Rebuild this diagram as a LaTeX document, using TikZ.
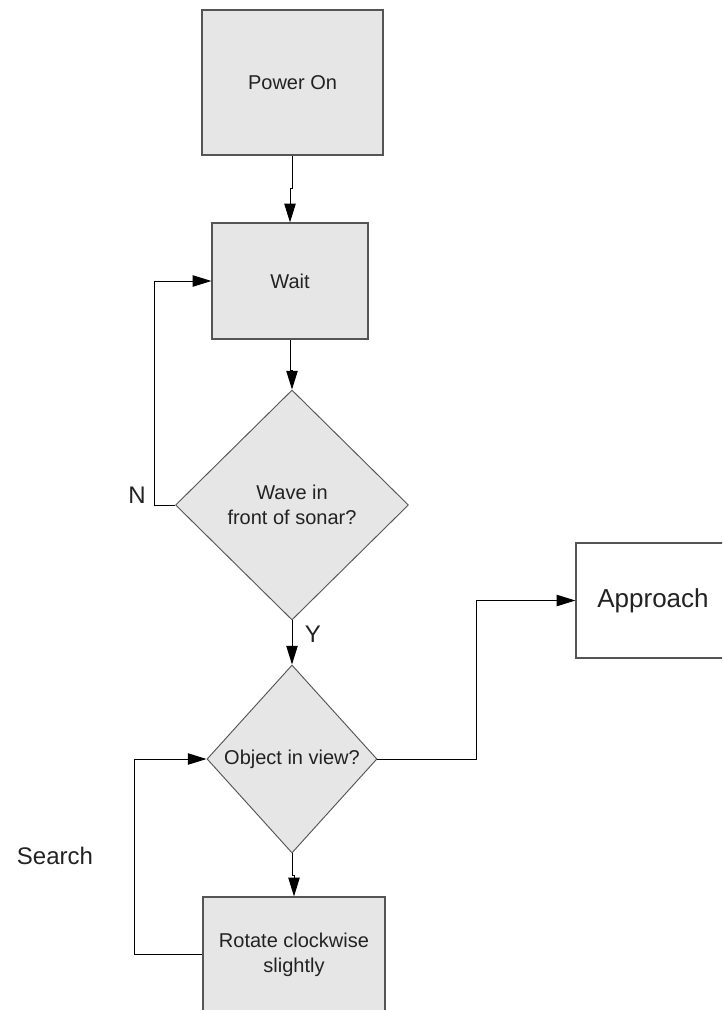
\documentclass[tikz,border=0pt]{standalone}
\usepackage{fontspec}
\setmainfont{Liberation Sans}
\usetikzlibrary{shapes.geometric,arrows.meta,calc}
\definecolor{boxfill}{HTML}{E6E6E6}
\definecolor{boxline}{HTML}{555555}
\definecolor{txt}{HTML}{222222}
\begin{document}
\begin{tikzpicture}[x=0.75pt,y=-0.75pt,
  box/.style={draw=boxline,line width=0.9pt,fill=boxfill,inner sep=0pt,
    font=\fontsize{15}{18.75}\selectfont,text=txt,align=center},
  dia/.style={draw=boxline,line width=0.7pt,fill=boxfill,diamond,inner sep=0pt,
    font=\fontsize{15}{18.75}\selectfont,text=txt,align=center},
  lbl/.style={font=\fontsize{18}{22}\selectfont,text=txt,inner sep=0pt},
  arr/.style={line width=0.75pt,-{Triangle[length=14pt,width=8.5pt]}},
  ln/.style={line width=0.75pt}]
\useasboundingbox (0,0) rectangle (722,1010);
\clip (0,0) rectangle (722,1010);
\node[box,minimum width=135.75pt,minimum height=108.75pt] (pw) at (292.5,82.5) {Power On};
\node[box,minimum width=117pt,minimum height=87pt] (wait) at (290,281) {Wait};
\node[dia,minimum width=174.75pt,minimum height=172.5pt] (d1) at (292,505) {Wave in\\front of sonar?};
\node[dia,minimum width=127.5pt,minimum height=141pt] (d2) at (292,759) {Object in view?};
\node[box,minimum width=136.5pt,minimum height=86.25pt] (rot) at (294,954.5) {Rotate clockwise\\slightly};
\node[box,fill=white,minimum width=115.5pt,minimum height=86.25pt,
  font=\fontsize{19.5}{23}\selectfont] (ap) at (653,600.5) {Approach};
\node[lbl] (n) at (137,495) {N};
\node[lbl] (y) at (313,634) {Y};
\node[lbl] (search) at (55,856) {Search};
\draw[arr] (pw.south) -- ++(0,33) -| (wait.north);
\draw[arr] (wait.south) -- ++(0,31) -| (d1.north);
\draw[arr] (d1.west) -- ++(-21,0) |- (wait.west);
\draw[arr] (d1.south) -- (d2.north);
\draw[arr] (d2.east) -- ++(99,0) |- (ap.west);
\draw[arr] (d2.south) -- ++(0,22) -| (rot.north);
\draw[arr] (rot.west) -- ++(-68,0) |- (d2.west);
\end{tikzpicture}
\end{document}
